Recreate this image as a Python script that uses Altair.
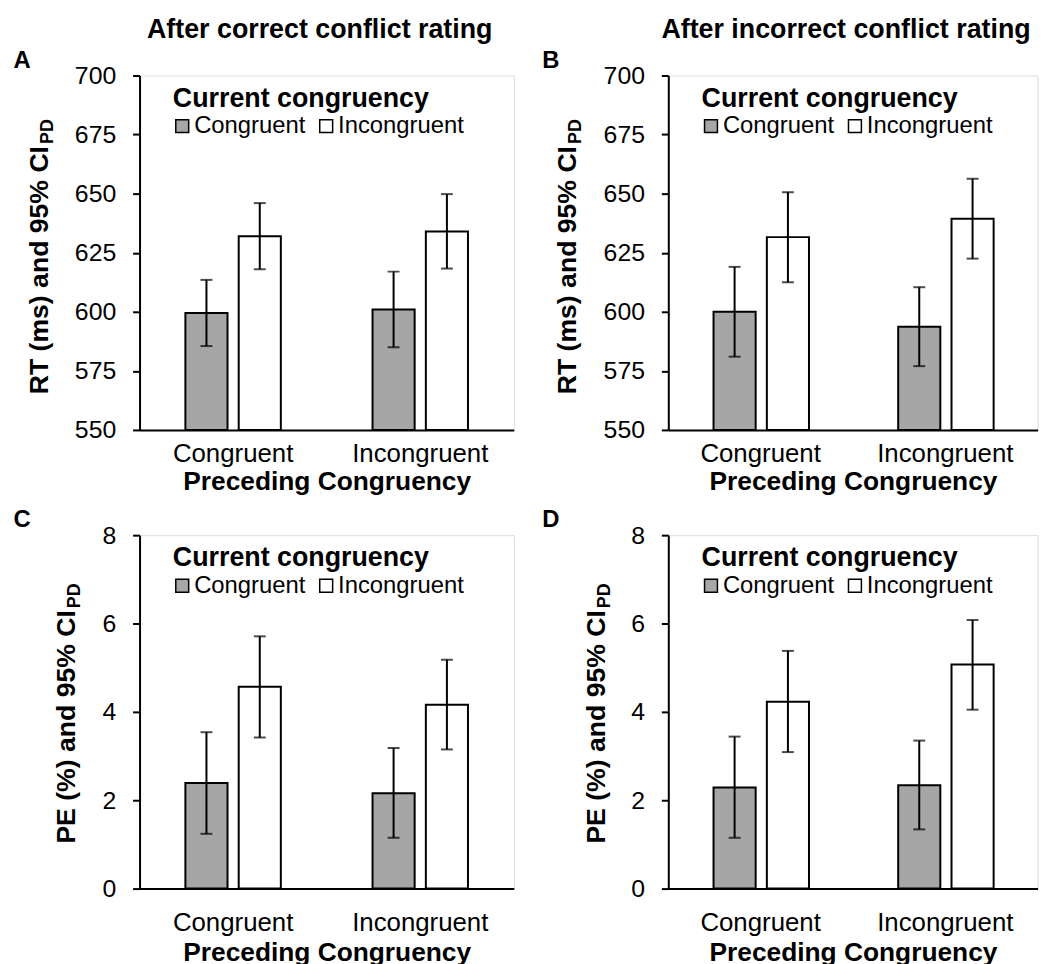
import altair as alt
import pandas as pd

# ---------------- data ----------------
preceding_cats = ["Congruent", "Incongruent"]
current_cats = ["Congruent", "Incongruent"]

preceding = ["Congruent", "Congruent", "Incongruent", "Incongruent"]
current = ["Congruent", "Incongruent", "Congruent", "Incongruent"]

# A: RT after correct conflict rating
rt_correct_mean = [599.5, 632.0, 601.0, 634.0]
rt_correct_lo = [585.5, 618.0, 585.0, 618.3]
rt_correct_hi = [613.5, 646.0, 617.0, 649.8]

# B: RT after incorrect conflict rating
rt_incorrect_mean = [600.0, 631.6, 593.7, 639.4]
rt_incorrect_lo = [581.0, 612.5, 577.0, 622.5]
rt_incorrect_hi = [619.0, 650.6, 610.4, 656.3]

# C: PE after correct conflict rating
pe_correct_mean = [2.39, 4.57, 2.16, 4.16]
pe_correct_lo = [1.24, 3.42, 1.15, 3.15]
pe_correct_hi = [3.54, 5.71, 3.18, 5.18]

# D: PE after incorrect conflict rating
pe_incorrect_mean = [2.29, 4.23, 2.34, 5.07]
pe_incorrect_lo = [1.15, 3.09, 1.34, 4.05]
pe_incorrect_hi = [3.44, 5.38, 3.35, 6.08]

rt_ticks = [550, 575, 600, 625, 650, 675, 700]
pe_ticks = [0, 2, 4, 6, 8]

panel_letters = ["A", "B", "C", "D"]
panel_titles = ["After correct conflict rating", "After incorrect conflict rating"]
rt_title = "RT (ms) and 95% CI"
pe_title = "PE (%) and 95% CI"
ci_subscript = "PD"
x_title = "Preceding Congruency"
legend_title = "Current congruency"
bar_colors = ["#a6a6a6", "#ffffff"]

FONT = "Liberation Sans"


def text_layer(txt, x, y, size, bold=True, align="left", angle=0, baseline="alphabetic"):
    kw = dict(fontSize=size, fontWeight="bold" if bold else "normal", align=align,
              baseline=baseline, color="black", font=FONT)
    if angle:
        kw["angle"] = angle
    return alt.Chart(pd.DataFrame({"t": [txt]})).mark_text(**kw).encode(
        text="t:N", x=alt.value(x), y=alt.value(y))


def panel(letter, title, mean, lo, hi, ticks, ytitle, width, height,
          label_pad, title_pad, ytitle_x, ytitle_end):
    df = pd.DataFrame({"prev": preceding, "curr": current,
                       "mean": mean, "lo": lo, "hi": hi})
    ydom = [ticks[0], ticks[-1]]
    x = alt.X("prev:N", sort=preceding_cats,
              scale=alt.Scale(paddingInner=0.49, paddingOuter=0.245),
              axis=alt.Axis(title=x_title, labelAngle=0, ticks=False, tickSize=0,
                            domainColor="black", domainWidth=2,
                            labelFontSize=26, labelColor="black", labelPadding=label_pad,
                            titleFontSize=26.5, titleFontWeight="bold", titleColor="black",
                            titlePadding=title_pad, labelFont=FONT, titleFont=FONT))
    xo = alt.XOffset("curr:N", sort=current_cats,
                     scale=alt.Scale(paddingInner=0.21, paddingOuter=0))
    yscale = alt.Scale(domain=ydom, nice=False, zero=False)
    y = alt.Y("mean:Q", scale=yscale,
              axis=alt.Axis(title=None, values=ticks, grid=False, tickSize=7,
                            tickColor="black", tickWidth=2, domainColor="black",
                            domainWidth=2, labelFontSize=25, labelColor="black",
                            labelPadding=17, labelFlush=False, labelOverlap=False,
                            labelFont=FONT))
    fill = alt.Fill("curr:N", sort=current_cats,
                    scale=alt.Scale(domain=current_cats, range=bar_colors),
                    legend=alt.Legend(title=None, orient="none", legendX=31,
                                      legendY=39, direction="horizontal",
                                      labelLimit=300,
                                      labelFontSize=24, labelColor="black", labelFont=FONT,
                                      symbolType="square", symbolSize=169,
                                      symbolStrokeColor="black", symbolStrokeWidth=1.5,
                                      labelOffset=0, columnPadding=8, padding=0))
    bars = alt.Chart(df).mark_bar(stroke="black", strokeWidth=2).encode(
        x=x, xOffset=xo, y=y, y2=alt.datum(ydom[0]), fill=fill)
    rule = alt.Chart(df).mark_rule(color="black", strokeWidth=2).encode(
        x=x, xOffset=xo, y=alt.Y("lo:Q", scale=yscale), y2="hi:Q")
    cap_hi = alt.Chart(df).mark_tick(color="black", thickness=2, size=12,
                                     orient="horizontal").encode(
        x=x, xOffset=xo, y=alt.Y("hi:Q", scale=yscale))
    cap_lo = alt.Chart(df).mark_tick(color="black", thickness=2, size=12,
                                     orient="horizontal").encode(
        x=x, xOffset=xo, y=alt.Y("lo:Q", scale=yscale))
    layers = [bars, rule, cap_hi, cap_lo,
              text_layer(legend_title, 33.5, 31.5, 27),
              text_layer(letter, -127, -8, 24),
              text_layer(ytitle, ytitle_x, ytitle_end, 26.8, align="right",
                         angle=270, baseline="middle"),
              text_layer(ci_subscript, ytitle_x + 8, ytitle_end - 2, 18, align="left",
                         angle=270, baseline="middle")]
    if title:
        layers.append(text_layer(title, width / 2 - 7, -38, 27, align="center"))
    return alt.layer(*layers).properties(width=width, height=height)


pA = panel(panel_letters[0], panel_titles[0], rt_correct_mean, rt_correct_lo, rt_correct_hi,
           rt_ticks, rt_title, 377, 357, 11, 2, -100, 71)
pB = panel(panel_letters[1], panel_titles[1], rt_incorrect_mean, rt_incorrect_lo,
           rt_incorrect_hi, rt_ticks, rt_title, 372, 357, 11, 2, -101, 71)
pC = panel(panel_letters[2], None, pe_correct_mean, pe_correct_lo, pe_correct_hi,
           pe_ticks, pe_title, 377, 356, 21, 4, -73, 75.5)
pD = panel(panel_letters[3], None, pe_incorrect_mean, pe_incorrect_lo, pe_incorrect_hi,
           pe_ticks, pe_title, 372, 356, 21, 4, -72, 75.5)

chart = alt.concat(pA, pB, pC, pD, columns=2,
                   spacing=alt.RowColnumber(row=106, column=155.6),
                   bounds="flush").resolve_scale(
    x="independent", y="independent", fill="independent").resolve_legend(
    fill="independent").properties(
    padding={"left": 4.5, "top": 3.5, "right": 0, "bottom": 0}).configure_view(
    stroke=None).configure(font=FONT)

chart.save("out.html", embed_options={"renderer": "svg", "actions": False})
